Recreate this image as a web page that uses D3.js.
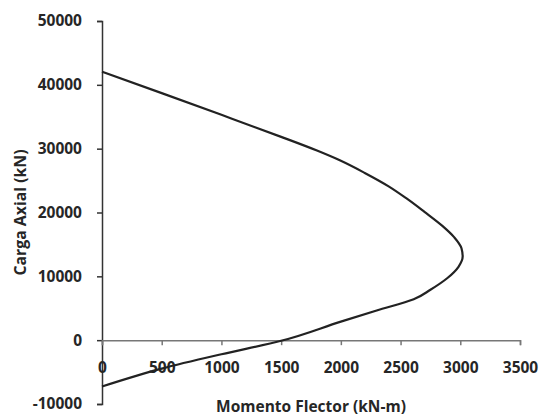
<!DOCTYPE html>
<html>
<head>
<meta charset="utf-8">
<script src="https://cdn.jsdelivr.net/npm/d3@7"></script>
<style>
  html, body { margin: 0; padding: 0; background: #fff; }
  svg text { font-family: "Open Sans", "Noto Sans", sans-serif; font-weight: 700; fill: #262626; }
</style>
</head>
<body>
<svg id="chart" width="541" height="417"></svg>
<script>
// Interaction diagram: bending moment (kN-m) vs axial load (kN)
const momento = [0, 500, 1000, 1500, 2000, 2300, 2610, 2750, 2890, 2985, 3020, 3010, 2950, 2850, 2700, 2550, 2400, 2200, 2000, 1800, 1500, 1000, 500, 0];
const carga   = [-7250, -4450, -2200, -100, 2900, 4650, 6400, 7900, 9700, 11500, 13100, 14400, 16100, 17900, 20100, 22200, 24100, 26200, 28100, 29700, 31850, 35300, 38700, 42050];

const xTicks = [0, 500, 1000, 1500, 2000, 2500, 3000, 3500];
const yTicks = [-10000, 0, 10000, 20000, 30000, 40000, 50000];

const xTitle = "Momento Flector (kN-m)";
const yTitle = "Carga Axial (kN)";

const svg = d3.select("#chart");
const plot = { left: 102, right: 520, top: 21, bottom: 404 };

const x = d3.scaleLinear().domain([0, 3500]).range([plot.left, plot.right]);
const y = d3.scaleLinear().domain([-10000, 50000]).range([plot.bottom, plot.top]);

// plain hyphen for negatives, no thousands separator
const fmt = d => String(d);

// Y axis (vertical line at M = 0)
const yAxis = svg.append("g")
  .attr("transform", `translate(${x(0)},0)`)
  .call(d3.axisLeft(y).tickValues(yTicks).tickSize(5).tickPadding(15).tickFormat(fmt));
yAxis.select(".domain").attr("stroke", "#333").attr("stroke-width", 1.5);
yAxis.selectAll(".tick line").attr("stroke", "#333").attr("stroke-width", 1.5);
yAxis.selectAll(".tick text").attr("font-size", 15.5).attr("fill", "#262626")
  .attr("font-family", "Open Sans").attr("font-weight", 700);

// X axis drawn along P = 0
const xAxis = svg.append("g")
  .attr("transform", `translate(0,${y(0)})`)
  .call(d3.axisBottom(x).tickValues(xTicks).tickSize(5).tickPadding(17).tickFormat(fmt));
xAxis.select(".domain").attr("stroke", "#777").attr("stroke-width", 1.5);
xAxis.selectAll(".tick line").attr("stroke", "#777").attr("stroke-width", 1.5);
xAxis.selectAll(".tick text").attr("font-size", 15.5).attr("fill", "#262626")
  .attr("font-family", "Open Sans").attr("font-weight", 700);

// Axis titles
svg.append("text")
  .attr("x", (plot.left + plot.right) / 2)
  .attr("y", 412)
  .attr("text-anchor", "middle")
  .attr("font-size", 15.5)
  .text(xTitle);

svg.append("text")
  .attr("transform", `translate(26,${(plot.top + plot.bottom) / 2}) rotate(-90)`)
  .attr("text-anchor", "middle")
  .attr("font-size", 15.8)
  .text(yTitle);

// Interaction curve
const pts = momento.map((m, i) => [m, carga[i]]);
const line = d3.line()
  .x(d => x(d[0]))
  .y(d => y(d[1]))
  .curve(d3.curveMonotoneY);

svg.append("path")
  .datum(pts)
  .attr("fill", "none")
  .attr("stroke", "#222")
  .attr("stroke-width", 2.2)
  .attr("stroke-linejoin", "round")
  .attr("d", line);
</script>
</body>
</html>
